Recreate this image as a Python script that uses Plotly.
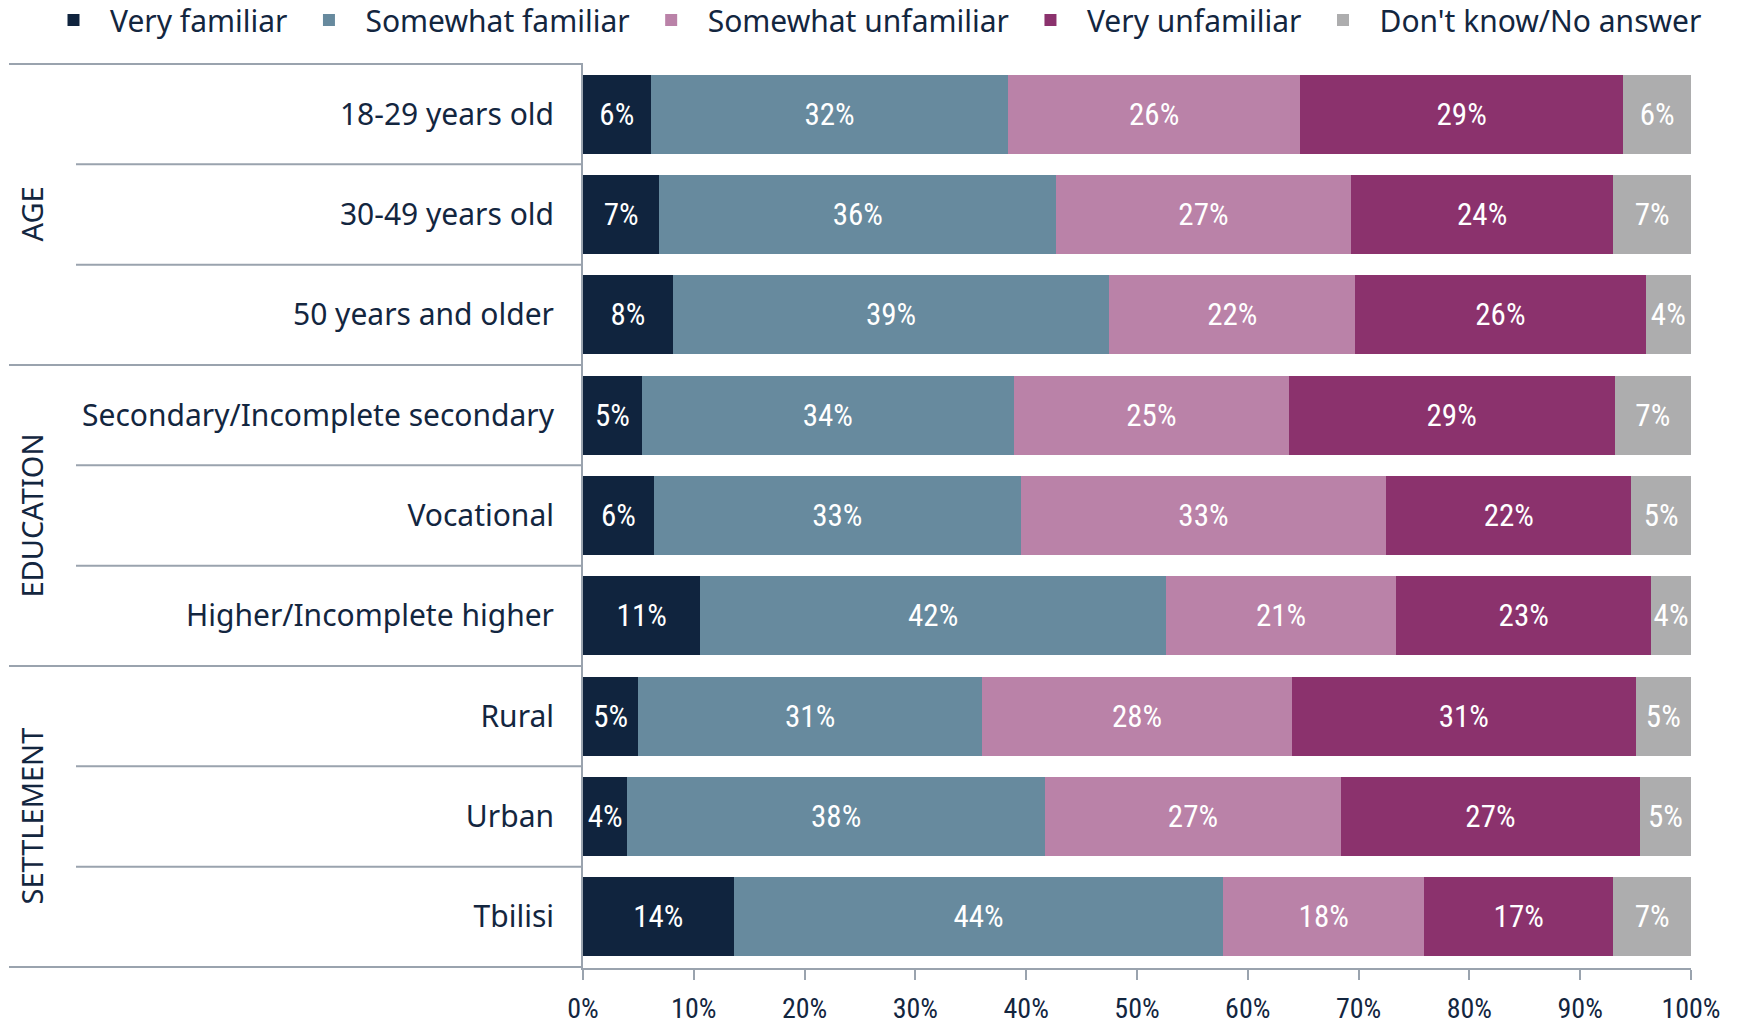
import plotly.graph_objects as go

categories = ["18-29 years old", "30-49 years old", "50 years and older",
              "Secondary/Incomplete secondary", "Vocational", "Higher/Incomplete higher",
              "Rural", "Urban", "Tbilisi"]
groups = ["AGE", "EDUCATION", "SETTLEMENT"]
series_names = ["Very familiar", "Somewhat familiar", "Somewhat unfamiliar",
                "Very unfamiliar", "Don't know/No answer"]

very_familiar = [6.1, 6.9, 8.1, 5.3, 6.4, 10.6, 5.0, 4.0, 13.6]
somewhat_familiar = [32.3, 35.8, 39.4, 33.6, 33.1, 42.0, 31.0, 37.7, 44.2]
somewhat_unfamiliar = [26.3, 26.6, 22.2, 24.8, 33.0, 20.8, 28.0, 26.7, 18.1]
very_unfamiliar = [29.2, 23.7, 26.2, 29.4, 22.1, 23.0, 31.0, 27.0, 17.1]
dont_know = [6.1, 7.0, 4.1, 6.9, 5.4, 3.6, 5.0, 4.6, 7.0]

tick_vals = [0, 10, 20, 30, 40, 50, 60, 70, 80, 90, 100]
tick_text = [f"{t}%" for t in tick_vals]

colors = ["#10243E", "#678A9E", "#BA82A8", "#8B326D", "#ADADAE"]
series = [very_familiar, somewhat_familiar, somewhat_unfamiliar, very_unfamiliar, dont_know]

NARROW = "Liberation Sans Narrow, Roboto Condensed, Roboto, sans-serif"
SANS = "Noto Sans, Open Sans, sans-serif"
NAVY = "#13263F"
LINE = "#9AA3AE"

fig = go.Figure()
for name, vals, col in zip(series_names, series, colors):
    fig.add_trace(go.Bar(
        y=categories, x=vals, name=name, orientation="h",
        marker=dict(color=col, line=dict(width=0)),
        text=[f"{v:.0f}%" for v in vals],
        textposition="inside", insidetextanchor="middle",
        textfont=dict(color="white", size=31, family=NARROW),
        hoverinfo="skip",
    ))

W, H = 1745, 1025
L, R, T, B = 583, 54, 63, 57
pw = W - L - R
ph = H - T - B

def px2paper(xpx):
    return (xpx - L) / pw

shapes = []
boundaries = [-0.5, 0.5, 1.5, 2.5, 3.5, 4.5, 5.5, 6.5, 7.5, 8.5]
for b in boundaries:
    full = b in (-0.5, 2.5, 5.5, 8.5)
    x0 = px2paper(9) if full else px2paper(76)
    shapes.append(dict(type="line", xref="paper", yref="y", x0=x0, x1=0, y0=b, y1=b,
                       line=dict(color=LINE, width=2)))

annotations = []
for i, g in enumerate(groups):
    annotations.append(dict(text=g, xref="paper", yref="y", x=px2paper(31), y=3 * i + 1,
                            textangle=-90, showarrow=False, xanchor="center", yanchor="middle",
                            font=dict(size=29, color=NAVY, family=SANS)))

fig.update_layout(
    width=W, height=H,
    barmode="stack", bargap=0.21,
    margin=dict(l=L, r=R, t=T, b=B, autoexpand=False),
    paper_bgcolor="white", plot_bgcolor="white",
    font=dict(family=SANS, color=NAVY, size=30),
    showlegend=True,
    legend=dict(orientation="h", xref="paper", yref="paper",
                x=px2paper(37), y=1 + (T - 20) / ph,
                xanchor="left", yanchor="middle", font=dict(size=30, color=NAVY, family=SANS),
                itemwidth=63, tracegroupgap=0, traceorder="normal"),
    uniformtext=dict(minsize=31, mode="show"),
    shapes=shapes, annotations=annotations,
    xaxis=dict(range=[0, 100], tickvals=tick_vals, ticktext=tick_text, showgrid=False,
               zeroline=False, showline=True, linecolor=LINE, linewidth=2,
               ticks="outside", ticklen=10, tickcolor=LINE, tickwidth=1.5,
               tickfont=dict(size=28, color=NAVY, family=NARROW), ticklabelstandoff=4,
               fixedrange=True),
    yaxis=dict(categoryorder="array", categoryarray=categories, autorange="reversed",
               showgrid=False, zeroline=False, showline=True, linecolor=LINE, linewidth=2,
               ticks="", tickfont=dict(size=30, color=NAVY, family=SANS),
               ticklabelstandoff=21, fixedrange=True),
)

fig.write_html("out.html", post_script="document.body.style.margin='0';",
               config={"displayModeBar": False})
